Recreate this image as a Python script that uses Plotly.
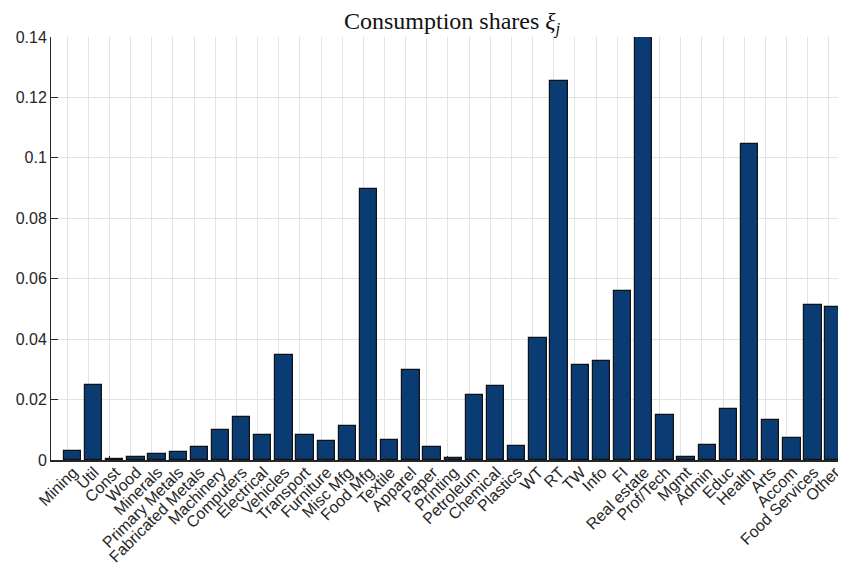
import plotly.graph_objects as go

# Sector names and consumption shares
sectors = [
    'Mining', 'Util', 'Const', 'Wood', 'Minerals', 'Primary Metals',
    'Fabricated Metals', 'Machinery', 'Computers', 'Electrical', 'Vehicles',
    'Transport', 'Furniture', 'Misc Mfg', 'Food Mfg', 'Textile', 'Apparel',
    'Paper', 'Printing', 'Petroleum', 'Chemical', 'Plastics', 'WT', 'RT',
    'TW', 'Info', 'FI', 'Real estate', 'Prof/Tech', 'Mgmt', 'Admin', 'Educ',
    'Health', 'Arts', 'Accom', 'Food Services', 'Other'
]
shares = [
    0.0030, 0.0249, 0.0003, 0.0011, 0.0020, 0.0026,
    0.0042, 0.0098, 0.0143, 0.0084, 0.0349,
    0.0084, 0.0062, 0.0112, 0.0897, 0.0065, 0.0298,
    0.0044, 0.0008, 0.0214, 0.0246, 0.0047, 0.0403, 0.1256,
    0.0314, 0.0328, 0.0561, 0.1450, 0.0150, 0.0009, 0.0051, 0.0169,
    0.1046, 0.0132, 0.0074, 0.0513, 0.0507
]
y_ticks = [0, 0.02, 0.04, 0.06, 0.08, 0.1, 0.12, 0.14]
y_ticktext = ['0', '0.02', '0.04', '0.06', '0.08', '0.1', '0.12', '0.14']

colors = {
    'bar': '#0a3c73',
    'edge': '#111111',
    'grid': '#e3e3e3',
    'axis': '#262626',
    'font': '#262626',
}

bar_w = 0.82

fig = go.Figure()
fig.add_trace(go.Bar(
    x=sectors, y=shares,
    width=bar_w,
    offset=-bar_w / 2 + 0.25,  # bars sit a quarter step right of the ticks
    marker=dict(color=colors['bar'], line=dict(color=colors['edge'], width=1.2)),
))

# page body has an 8px margin, so the figure is 8px smaller than the window
fig.update_layout(
    width=838, height=559,
    margin=dict(l=43, r=0, t=29, b=107, autoexpand=False),
    paper_bgcolor='white', plot_bgcolor='white',
    showlegend=False,
    bargap=0,
    title=dict(
        text='Consumption shares <i>ξ</i><sub><i>j</i></sub>',
        x=0.53, xanchor='center', y=0.978, yanchor='middle',
        font=dict(family='Liberation Serif', size=24, color='#111111'),
    ),
    font=dict(family='Liberation Sans, Arial', size=16, color=colors['font']),
)
fig.update_xaxes(
    type='category', range=[-0.76, 36.81], automargin=False,
    tickangle=-45, tickfont=dict(size=16),
    ticklabelstandoff=-5, ticklabelshift=6,
    showgrid=True, gridcolor=colors['grid'], gridwidth=1,
    showline=True, linecolor=colors['axis'], linewidth=1.5,
    ticks='inside', ticklen=4, tickcolor=colors['axis'],
    mirror=False, zeroline=False,
)
fig.update_yaxes(
    range=[0, 0.14], tickvals=y_ticks, ticktext=y_ticktext, automargin=False,
    showgrid=True, gridcolor=colors['grid'], gridwidth=1,
    showline=True, linecolor=colors['axis'], linewidth=1,
    ticks='inside', ticklen=7, tickcolor=colors['axis'],
    zeroline=False, tickfont=dict(size=16),
)

fig.write_html("out.html")
